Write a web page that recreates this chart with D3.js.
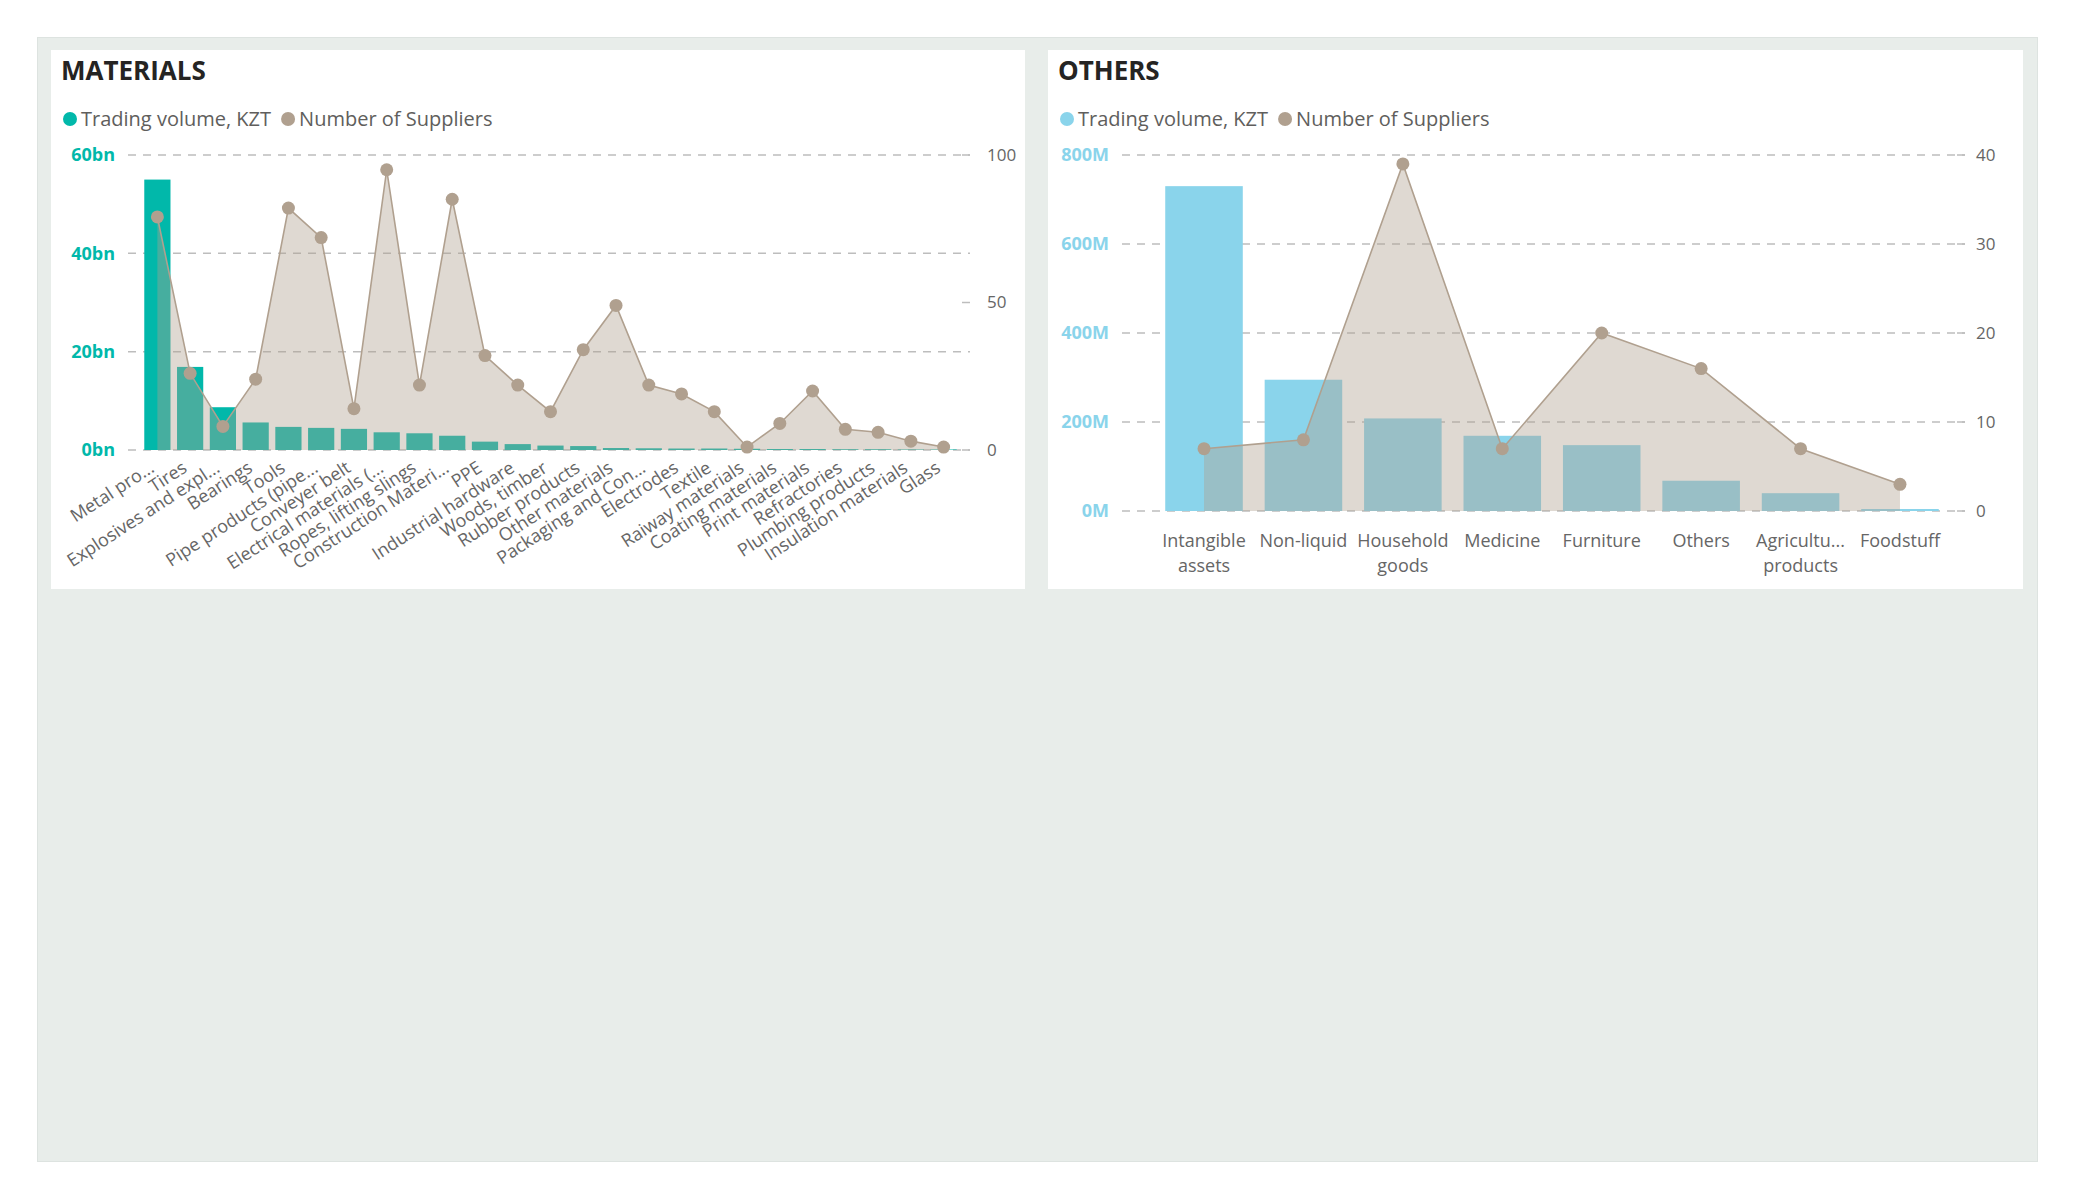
<!DOCTYPE html>
<html><head><meta charset="utf-8">
<script src="https://cdn.jsdelivr.net/npm/d3@7"></script>
<style>
body{margin:0;background:#fff;}
svg text{font-family:"Segoe UI","Open Sans",sans-serif;}
</style></head><body>
<svg id="chart" width="2075" height="1200"></svg>
<script>
// ---------- DATA ----------
const matCategories = ["Metal pro...","Tires","Explosives and expl...","Bearings","Tools","Pipe products (pipe...","Conveyer belt","Electrical materials (...","Ropes, lifting slings","Construction Materi...","PPE","Industrial hardware","Woods, timber","Rubber products","Other materials","Packaging and Con...","Electrodes","Textile","Raiway materials","Coating materials","Print materials","Refractories","Plumbing products","Insulation materials","Glass"];
const matVolumeBn = [55, 16.9, 8.7, 5.6, 4.7, 4.5, 4.3, 3.6, 3.4, 2.9, 1.7, 1.2, 0.9, 0.8, 0.4, 0.35, 0.3, 0.3, 0.25, 0.2, 0.2, 0.15, 0.15, 0.1, 0.1];
const matSuppliers = [79, 26, 8, 24, 82, 72, 14, 95, 22, 85, 32, 22, 13, 34, 49, 22, 19, 13, 1, 9, 20, 7, 6, 3, 1];
const matLeftTicks = [0, 20, 40, 60];
const matRightTicks = [0, 50, 100];

const othCategories = ["Intangible assets","Non-liquid","Household goods","Medicine","Furniture","Others","Agricultu... products","Foodstuff"];
const othTickLines = [["Intangible","assets"],["Non-liquid"],["Household","goods"],["Medicine"],["Furniture"],["Others"],["Agricultu...","products"],["Foodstuff"]];
const othVolumeM = [730, 295, 208, 169, 148, 68, 40, 4.5];
const othSuppliers = [7, 8, 39, 7, 20, 16, 7, 3];
const othLeftTicks = [0, 200, 400, 600, 800];
const othRightTicks = [0, 10, 20, 30, 40];

const legendLabels = ["Trading volume, KZT", "Number of Suppliers"];
const suppColor = "#B0A08F";

// ---------- DRAW ----------
const svg = d3.select("#chart");
svg.append("rect").attr("x", 37.5).attr("y", 37.5).attr("width", 2000).attr("height", 1124)
  .attr("fill", "#E8EDEA").attr("stroke", "#DDE3E0");

function drawPanel(o) {
  const g = svg.append("g");
  g.append("rect").attr("x", o.cardX).attr("y", 50).attr("width", o.cardW).attr("height", 539).attr("fill", "#fff");
  g.append("text").attr("x", o.cardX + 10).attr("y", 80).attr("font-size", 26).attr("font-weight", 700)
    .attr("fill", "#252423").text(o.title);

  // legend
  const lg = g.append("g");
  let lx = o.cardX + 19;
  [o.barColor, suppColor].forEach((c, i) => {
    lg.append("circle").attr("cx", lx).attr("cy", 119).attr("r", 7).attr("fill", c);
    const t = lg.append("text").attr("x", lx + 11).attr("y", 126).attr("font-size", 20).attr("fill", "#605E5C").text(legendLabels[i]);
    lx = lx + 11 + t.node().getComputedTextLength() + 17;
  });

  const x = d3.scaleBand().domain(o.categories).range(o.xRange).paddingInner(o.padIn).paddingOuter(o.padOut);
  const yL = d3.scaleLinear().domain([0, o.leftMax]).range([o.y0, 155]);
  const yR = d3.scaleLinear().domain([0, o.rightMax]).range([o.y0, 155]);

  // gridlines
  g.append("g").selectAll("line").data(o.leftTicks).join("line")
    .attr("x1", o.gridX[0]).attr("x2", o.gridX[1]).attr("y1", d => yL(d)).attr("y2", d => yL(d))
    .attr("stroke", "#BDBDBD").attr("stroke-width", 1.5).attr("stroke-dasharray", "8,7");
  // right ticks (short dashes)
  g.append("g").selectAll("line").data(o.rightTicks).join("line")
    .attr("x1", o.gridX[1] - 8).attr("x2", o.gridX[1]).attr("y1", d => yR(d)).attr("y2", d => yR(d))
    .attr("stroke", "#BDBDBD").attr("stroke-width", 1.5);

  // left labels
  g.append("g").selectAll("text").data(o.leftTicks).join("text")
    .attr("x", o.leftLabelX).attr("y", d => yL(d)).attr("dy", "0.35em").attr("text-anchor", "end")
    .attr("font-size", 18).attr("font-weight", 700).attr("fill", o.axisColor).text(o.leftFmt);
  // right labels
  g.append("g").selectAll("text").data(o.rightTicks).join("text")
    .attr("x", o.rightLabelX).attr("y", d => yR(d)).attr("dy", "0.35em").attr("text-anchor", "start")
    .attr("font-size", 17).attr("fill", "#666").text(d => d);

  // bars
  g.append("g").selectAll("rect").data(o.categories).join("rect")
    .attr("x", d => x(d)).attr("width", x.bandwidth())
    .attr("y", (d, i) => yL(o.volume[i])).attr("height", (d, i) => o.y0 - yL(o.volume[i]))
    .attr("fill", o.barColor);

  // area + line
  const pts = o.categories.map((c, i) => [x(c) + x.bandwidth() / 2, yR(o.suppliers[i])]);
  g.append("path").datum(pts)
    .attr("d", d3.area().x(d => d[0]).y0(o.y0).y1(d => d[1]))
    .attr("fill", suppColor).attr("fill-opacity", 0.4);
  g.append("path").datum(pts)
    .attr("d", d3.line().x(d => d[0]).y(d => d[1]))
    .attr("fill", "none").attr("stroke", suppColor).attr("stroke-width", 1.6);
  g.append("g").selectAll("circle").data(pts).join("circle")
    .attr("cx", d => d[0]).attr("cy", d => d[1]).attr("r", 6.5).attr("fill", suppColor);

  o.drawXLabels(g, x);
}

drawPanel({
  cardX: 51, cardW: 974, title: "MATERIALS", barColor: "#01B8AA", axisColor: "#01B8AA",
  categories: matCategories, volume: matVolumeBn, suppliers: matSuppliers,
  xRange: [141, 960], padIn: 0.2, padOut: 0.1, y0: 450, leftMax: 60, rightMax: 100,
  leftTicks: matLeftTicks, rightTicks: matRightTicks, gridX: [128, 970],
  leftLabelX: 115, rightLabelX: 987, leftFmt: d => d + "bn",
  drawXLabels: (g, x) => {
    g.append("g").selectAll("text").data(matCategories).join("text")
      .attr("transform", d => `translate(${x(d) + x.bandwidth() / 2 - 9},460) rotate(-33)`)
      .attr("dy", "0.72em").attr("text-anchor", "end").attr("font-size", 18).attr("fill", "#666").text(d => d);
  }
});

drawPanel({
  cardX: 1048, cardW: 975, title: "OTHERS", barColor: "#8AD4EB", axisColor: "#8AD4EB",
  categories: othCategories, volume: othVolumeM, suppliers: othSuppliers,
  xRange: [1154.3, 1949.7], padIn: 0.22, padOut: 0.11, y0: 511, leftMax: 800, rightMax: 40,
  leftTicks: othLeftTicks, rightTicks: othRightTicks, gridX: [1122, 1965],
  leftLabelX: 1109, rightLabelX: 1976, leftFmt: d => d + "M",
  drawXLabels: (g, x) => {
    const t = g.append("g").selectAll("text").data(othCategories).join("text")
      .attr("x", d => x(d) + x.bandwidth() / 2).attr("y", 547).attr("text-anchor", "middle")
      .attr("font-size", 18).attr("fill", "#666");
    t.each(function(d, i) {
      d3.select(this).selectAll("tspan").data(othTickLines[i]).join("tspan")
        .attr("x", x(d) + x.bandwidth() / 2).attr("dy", (l, j) => j === 0 ? 0 : 25).text(l => l);
    });
  }
});
</script>
</body></html>
